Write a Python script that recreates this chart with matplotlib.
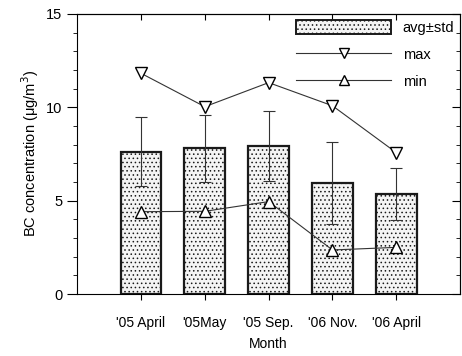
import numpy as np
import matplotlib
matplotlib.use('Agg')
import matplotlib.pyplot as plt
from matplotlib.ticker import MultipleLocator
from matplotlib.lines import Line2D
from matplotlib.patches import Patch

plt.rcParams['font.family'] = ['Liberation Sans', 'DejaVu Sans']
plt.rcParams['hatch.color'] = '#9a9a9a'
plt.rcParams['hatch.linewidth'] = 0.6

months = ["'05 April", "'05May", "'05 Sep.", "'06 Nov.", "'06 April"]
avg = [7.62, 7.8, 7.93, 5.96, 5.36]
std = [1.85, 1.8, 1.88, 2.19, 1.37]
vmax = [11.82, 10.03, 11.32, 10.08, 7.57]
vmin = [4.41, 4.43, 4.95, 2.36, 2.5]

x = np.arange(1, len(months) + 1)

fig = plt.figure(figsize=(4.62, 3.56), dpi=100)
ax = fig.add_axes([0.167, 0.174, 0.829, 0.787])

ax.bar(x, avg, width=0.64, color='#f4f4f4', edgecolor='#1a1a1a',
       linewidth=1.6, hatch='....', zorder=2)
ax.errorbar(x, avg, yerr=std, fmt='none', ecolor='#333333', elinewidth=0.8,
            capsize=4, capthick=0.8, zorder=3)
ax.plot(x, vmax, color='#333333', linewidth=0.8, marker='v', markersize=8,
        markerfacecolor='white', markeredgecolor='black', zorder=4)
ax.plot(x, vmin, color='#333333', linewidth=0.8, marker='^', markersize=8,
        markerfacecolor='white', markeredgecolor='black', zorder=4)

ax.set_xlim(0, 6)
ax.set_ylim(0, 15)
ax.set_xticks(x)
ax.set_xticklabels(months, fontsize=10)
ax.yaxis.set_major_locator(MultipleLocator(5))
ax.yaxis.set_minor_locator(MultipleLocator(1))
ax.tick_params(axis='y', which='major', direction='out', length=7, labelsize=10.5)
ax.tick_params(axis='y', which='minor', direction='out', length=3)
ax.tick_params(axis='x', direction='out', length=4, labelsize=10, pad=12)
for s in ax.spines.values():
    s.set_linewidth(0.8)

# inward ticks on top and right
top = ax.secondary_xaxis('top')
top.set_xticks(x)
top.tick_params(direction='in', length=4, labeltop=False)
right = ax.secondary_yaxis('right')
right.yaxis.set_major_locator(MultipleLocator(5))
right.yaxis.set_minor_locator(MultipleLocator(1))
right.tick_params(which='major', direction='in', length=6, labelright=False)
right.tick_params(which='minor', direction='in', length=3)

ax.set_xlabel('Month', fontsize=10, labelpad=5)
ax.set_ylabel('BC concentration (\u03bcg/m$^3$)', fontsize=10.5)

handles = [
    Patch(facecolor='#f4f4f4', edgecolor='#1a1a1a', hatch='....', linewidth=1.4),
    Line2D([], [], color='#333333', linewidth=0.8, marker='v', markersize=7,
           markerfacecolor='white', markeredgecolor='black'),
    Line2D([], [], color='#333333', linewidth=0.8, marker='^', markersize=7,
           markerfacecolor='white', markeredgecolor='black'),
]
ax.legend(handles, ['avg\u00b1std', 'max', 'min'], loc='upper right',
          frameon=False, fontsize=10.5, handlelength=6.5, handleheight=1.1,
          borderaxespad=0.0, labelspacing=0.85, handletextpad=0.8)

fig.savefig('out.png', dpi=100)
